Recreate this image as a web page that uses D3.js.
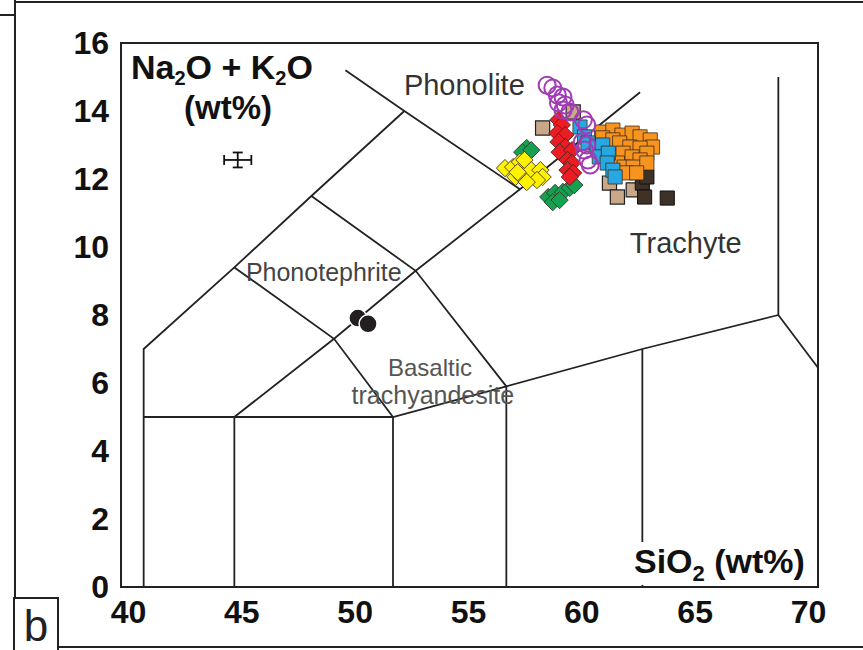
<!DOCTYPE html>
<html>
<head>
<meta charset="utf-8">
<script src="https://cdn.jsdelivr.net/npm/d3@7"></script>
<style>
  body { margin: 0; background: #fff; }
  svg { display: block; }
</style>
</head>
<body>
<script>
// ---- data ----
const xTicks = [40, 45, 50, 55, 60, 65, 70];
const yTicks = [0, 2, 4, 6, 8, 10, 12, 14, 16];

// TAS boundaries, [SiO2, Na2O+K2O]
const tasLines = [
  [[41, 0], [41, 7], [45, 9.4], [48.4, 11.5], [52.5, 14]],
  [[49.9, 15.2], [52.5, 14], [57.6, 11.7]],
  [[45, 5], [49.4, 7.3], [53, 9.3], [57.6, 11.7], [62.9, 14.55]],
  [[45, 9.4], [49.4, 7.3], [52, 5]],
  [[48.4, 11.5], [53, 9.3], [57, 5.9]],
  [[41, 5], [52, 5], [57, 5.9], [63, 7], [69, 8]],
  [[45, 0], [45, 5]],
  [[52, 0], [52, 5]],
  [[57, 0], [57, 5.9]],
  [[63, 0], [63, 7]],
  [[69, 15], [69, 8], [70.75, 6.45]]
];

const fieldNames = ["Phonolite", "Trachyte", "Phonotephrite", "Basaltic", "trachyandesite"];

const purpleSamples = [
  [58.8, 14.76], [59.05, 14.68], [59.25, 14.47], [59.5, 14.41], [59.3, 14.24],
  [59.6, 14.18], [59.5, 14.03], [59.8, 13.97], [60.4, 13.74], [60.55, 13.59],
  [60.35, 13.09], [60.55, 13.0], [60.45, 12.85], [60.6, 12.56], [60.7, 12.41]
];
const redSamples = [
  [59.3, 13.74], [59.45, 13.59], [59.25, 13.35], [59.6, 13.29], [59.3, 13.09],
  [59.6, 12.94], [59.35, 12.79], [59.9, 12.85], [59.7, 12.56], [59.9, 12.47],
  [59.7, 12.26], [59.95, 12.18], [59.8, 12.06]
];
const blueSamples = [
  [60.25, 13.53], [60.45, 13.24], [60.6, 13.06], [61.0, 12.94], [61.25, 13.0],
  [61.1, 12.65], [61.5, 12.76], [61.45, 12.47], [61.7, 12.26], [61.8, 12.06]
];
const orangeSamples = [
  [61.2, 13.38], [61.7, 13.44], [62.1, 13.29], [62.55, 13.35], [62.9, 13.24],
  [63.35, 13.15], [63.45, 12.94], [61.25, 13.21], [61.7, 13.15], [62.0, 13.06],
  [62.45, 12.94], [62.9, 12.91], [63.2, 12.76], [62.15, 12.76], [62.55, 12.65],
  [62.9, 12.56], [61.9, 12.47], [62.2, 12.35], [62.6, 12.35], [62.3, 12.18],
  [63.2, 12.47], [62.75, 12.18]
];
const tanSamples = [[58.6, 13.5], [59.95, 13.97], [61.55, 11.88], [61.9, 11.47], [62.6, 11.68]];
const brownSamples = [[63.0, 11.88], [63.1, 11.47], [64.1, 11.44], [63.2, 12.06]];
const yellowSamples = [
  [56.94, 12.32], [57.3, 12.35], [57.6, 12.5], [57.8, 12.56], [57.4, 12.06],
  [57.7, 12.06], [58.1, 12.26], [58.5, 12.26], [58.6, 12.06], [58.35, 11.97],
  [57.9, 11.91], [57.5, 12.2]
];
const greenSamples = [
  [57.9, 12.91], [57.7, 12.79], [58.1, 12.85], [58.85, 11.47], [59.15, 11.59],
  [59.5, 11.62], [59.8, 11.74], [60.0, 11.82], [59.05, 11.32], [59.35, 11.38]
];
const basaltSamples = [[50.45, 7.91], [50.9, 7.74]];

// typical analytical error: [SiO2, total alkali, ±SiO2, ±alkali]
const errorBar = [45.15, 12.56, 0.6, 0.22];

// ---- layout ----
const width = 863, height = 650;
const font = "'Liberation Sans', Arial, sans-serif";

const xScale = d3.scaleLinear([40, 70.75], [121, 818]);
const yScale = d3.scaleLinear([0, 16], [587, 43]);

const svg = d3.select("body").append("svg")
  .attr("width", width)
  .attr("height", height)
  .attr("viewBox", [0, 0, width, height]);

// outer figure frame
const frame = svg.append("g").attr("stroke", "#222").attr("stroke-width", 2).attr("fill", "none");
frame.append("path").attr("d", "M15,0V598 M0,15H15 M15,2H863 M58,647H863");
frame.append("rect").attr("x", 14).attr("y", 598).attr("width", 44).attr("height", 54);
svg.append("text")
  .attr("x", 36).attr("y", 641)
  .attr("text-anchor", "middle")
  .attr("font-family", font)
  .attr("font-size", 44)
  .attr("fill", "#222")
  .text("b");

// TAS boundaries
const line = d3.line().x((d) => xScale(d[0])).y((d) => yScale(d[1]));
svg.append("g")
  .attr("fill", "none")
  .attr("stroke", "#222")
  .attr("stroke-width", 1.8)
  .selectAll("path")
  .data(tasLines)
  .join("path")
  .attr("d", line);

// field names
const labelPos = [
  { x: 52.48, y: 14.47, anchor: "start", size: 29, color: "#333" },
  { x: 62.45, y: 9.82, anchor: "start", size: 29, color: "#333" },
  { x: 45.51, y: 9.0, anchor: "start", size: 25, color: "#444" },
  { x: 53.63, y: 6.2, anchor: "middle", size: 24, color: "#555" },
  { x: 53.76, y: 5.38, anchor: "middle", size: 25, color: "#555" }
];
svg.append("g")
  .selectAll("text")
  .data(fieldNames)
  .join("text")
  .attr("x", (d, i) => xScale(labelPos[i].x))
  .attr("y", (d, i) => yScale(labelPos[i].y))
  .attr("text-anchor", (d, i) => labelPos[i].anchor)
  .attr("font-size", (d, i) => labelPos[i].size)
  .attr("fill", (d, i) => labelPos[i].color)
  .attr("font-family", font)
  .text((d) => d);

// error bar
const eb = svg.append("g").attr("stroke", "#111").attr("stroke-width", 1.8);
const ex = xScale(errorBar[0]), ey = yScale(errorBar[1]);
const ex0 = xScale(errorBar[0] - errorBar[2]), ex1 = xScale(errorBar[0] + errorBar[2]);
const ey0 = yScale(errorBar[1] - errorBar[3]), ey1 = yScale(errorBar[1] + errorBar[3]);
eb.append("line").attr("x1", ex0).attr("x2", ex1).attr("y1", ey).attr("y2", ey);
eb.append("line").attr("x1", ex0).attr("x2", ex0).attr("y1", ey - 5).attr("y2", ey + 5);
eb.append("line").attr("x1", ex1).attr("x2", ex1).attr("y1", ey - 5).attr("y2", ey + 5);
eb.append("line").attr("x1", ex).attr("x2", ex).attr("y1", ey0).attr("y2", ey1);
eb.append("line").attr("x1", ex - 5).attr("x2", ex + 5).attr("y1", ey0).attr("y2", ey0);
eb.append("line").attr("x1", ex - 5).attr("x2", ex + 5).attr("y1", ey1).attr("y2", ey1);

// markers
const square = d3.symbol(d3.symbolSquare, 200)();
const diamond = d3.symbol(d3.symbolSquare, 150)();

function drawSeries(data, { shape, fill, stroke = "#3a2a20", strokeWidth = 0.8, rotate = 0 }) {
  svg.append("g")
    .selectAll("path")
    .data(data)
    .join("path")
    .attr("d", shape)
    .attr("transform", (d) => `translate(${xScale(d[0])},${yScale(d[1])}) rotate(${rotate})`)
    .attr("fill", fill)
    .attr("stroke", stroke)
    .attr("stroke-width", strokeWidth);
}

drawSeries(greenSamples, { shape: diamond, fill: "#15a052", rotate: 45 });
drawSeries(yellowSamples, { shape: diamond, fill: "#fff200", rotate: 45 });
drawSeries(tanSamples, { shape: square, fill: "#c9a88a", stroke: "#222", strokeWidth: 1.2 });
drawSeries(brownSamples, { shape: square, fill: "#3d3128", stroke: "#111", strokeWidth: 1 });
drawSeries(orangeSamples, { shape: square, fill: "#f7941d" });
drawSeries(blueSamples, { shape: square, fill: "#27a8e3" });
drawSeries(redSamples, { shape: diamond, fill: "#ec1c24", rotate: 45 });

svg.append("g")
  .selectAll("circle")
  .data(purpleSamples)
  .join("circle")
  .attr("cx", (d) => xScale(d[0]))
  .attr("cy", (d) => yScale(d[1]))
  .attr("r", 8.5)
  .attr("fill", "none")
  .attr("stroke", "#a03cb4")
  .attr("stroke-width", 2);

svg.append("g")
  .selectAll("circle")
  .data(basaltSamples)
  .join("circle")
  .attr("cx", (d) => xScale(d[0]))
  .attr("cy", (d) => yScale(d[1]))
  .attr("r", 9)
  .attr("fill", "#231f20")
  .attr("stroke", "#fff")
  .attr("stroke-width", 1.5);

// plot box
svg.append("rect")
  .attr("x", xScale(40)).attr("y", yScale(16))
  .attr("width", xScale(70.75) - xScale(40))
  .attr("height", yScale(0) - yScale(16))
  .attr("fill", "none")
  .attr("stroke", "#222")
  .attr("stroke-width", 2);

// axes
svg.append("g")
  .attr("transform", `translate(0,${yScale(0)})`)
  .call(d3.axisBottom(xScale).tickValues(xTicks).tickSize(0).tickPadding(13))
  .call((g) => g.select(".domain").remove())
  .call((g) => g.selectAll(".tick text")
    .attr("x", 7)
    .attr("font-size", 32)
    .attr("font-weight", 700)
    .attr("font-family", font)
    .attr("fill", "#111"));

svg.append("g")
  .attr("transform", `translate(${xScale(40)},0)`)
  .call(d3.axisLeft(yScale).tickValues(yTicks).tickSize(0).tickPadding(12))
  .call((g) => g.select(".domain").remove())
  .call((g) => g.selectAll(".tick text")
    .attr("font-size", 32)
    .attr("font-weight", 700)
    .attr("font-family", font)
    .attr("fill", "#111"));

// axis titles
const yTitle = svg.append("text")
  .attr("x", 131).attr("y", 79)
  .attr("font-family", font)
  .attr("font-size", 34)
  .attr("font-weight", 700)
  .attr("fill", "#111");
yTitle.append("tspan").text("Na");
yTitle.append("tspan").attr("font-size", 20).attr("dy", 6).text("2");
yTitle.append("tspan").attr("dy", -6).text("O + K");
yTitle.append("tspan").attr("font-size", 20).attr("dy", 6).text("2");
yTitle.append("tspan").attr("dy", -6).text("O");
svg.append("text")
  .attr("x", 228).attr("y", 119)
  .attr("text-anchor", "middle")
  .attr("font-family", font)
  .attr("font-size", 33)
  .attr("font-weight", 700)
  .attr("fill", "#111")
  .text("(wt%)");

svg.append("rect")
  .attr("x", 628).attr("y", 542)
  .attr("width", 180).attr("height", 43)
  .attr("fill", "#fff");
const xTitle = svg.append("text")
  .attr("x", 634).attr("y", 573)
  .attr("font-family", font)
  .attr("font-size", 34)
  .attr("font-weight", 700)
  .attr("fill", "#111");
xTitle.append("tspan").text("SiO");
xTitle.append("tspan").attr("font-size", 22).attr("dy", 8).text("2");
xTitle.append("tspan").attr("dy", -8).text(" (wt%)");
</script>
</body>
</html>
